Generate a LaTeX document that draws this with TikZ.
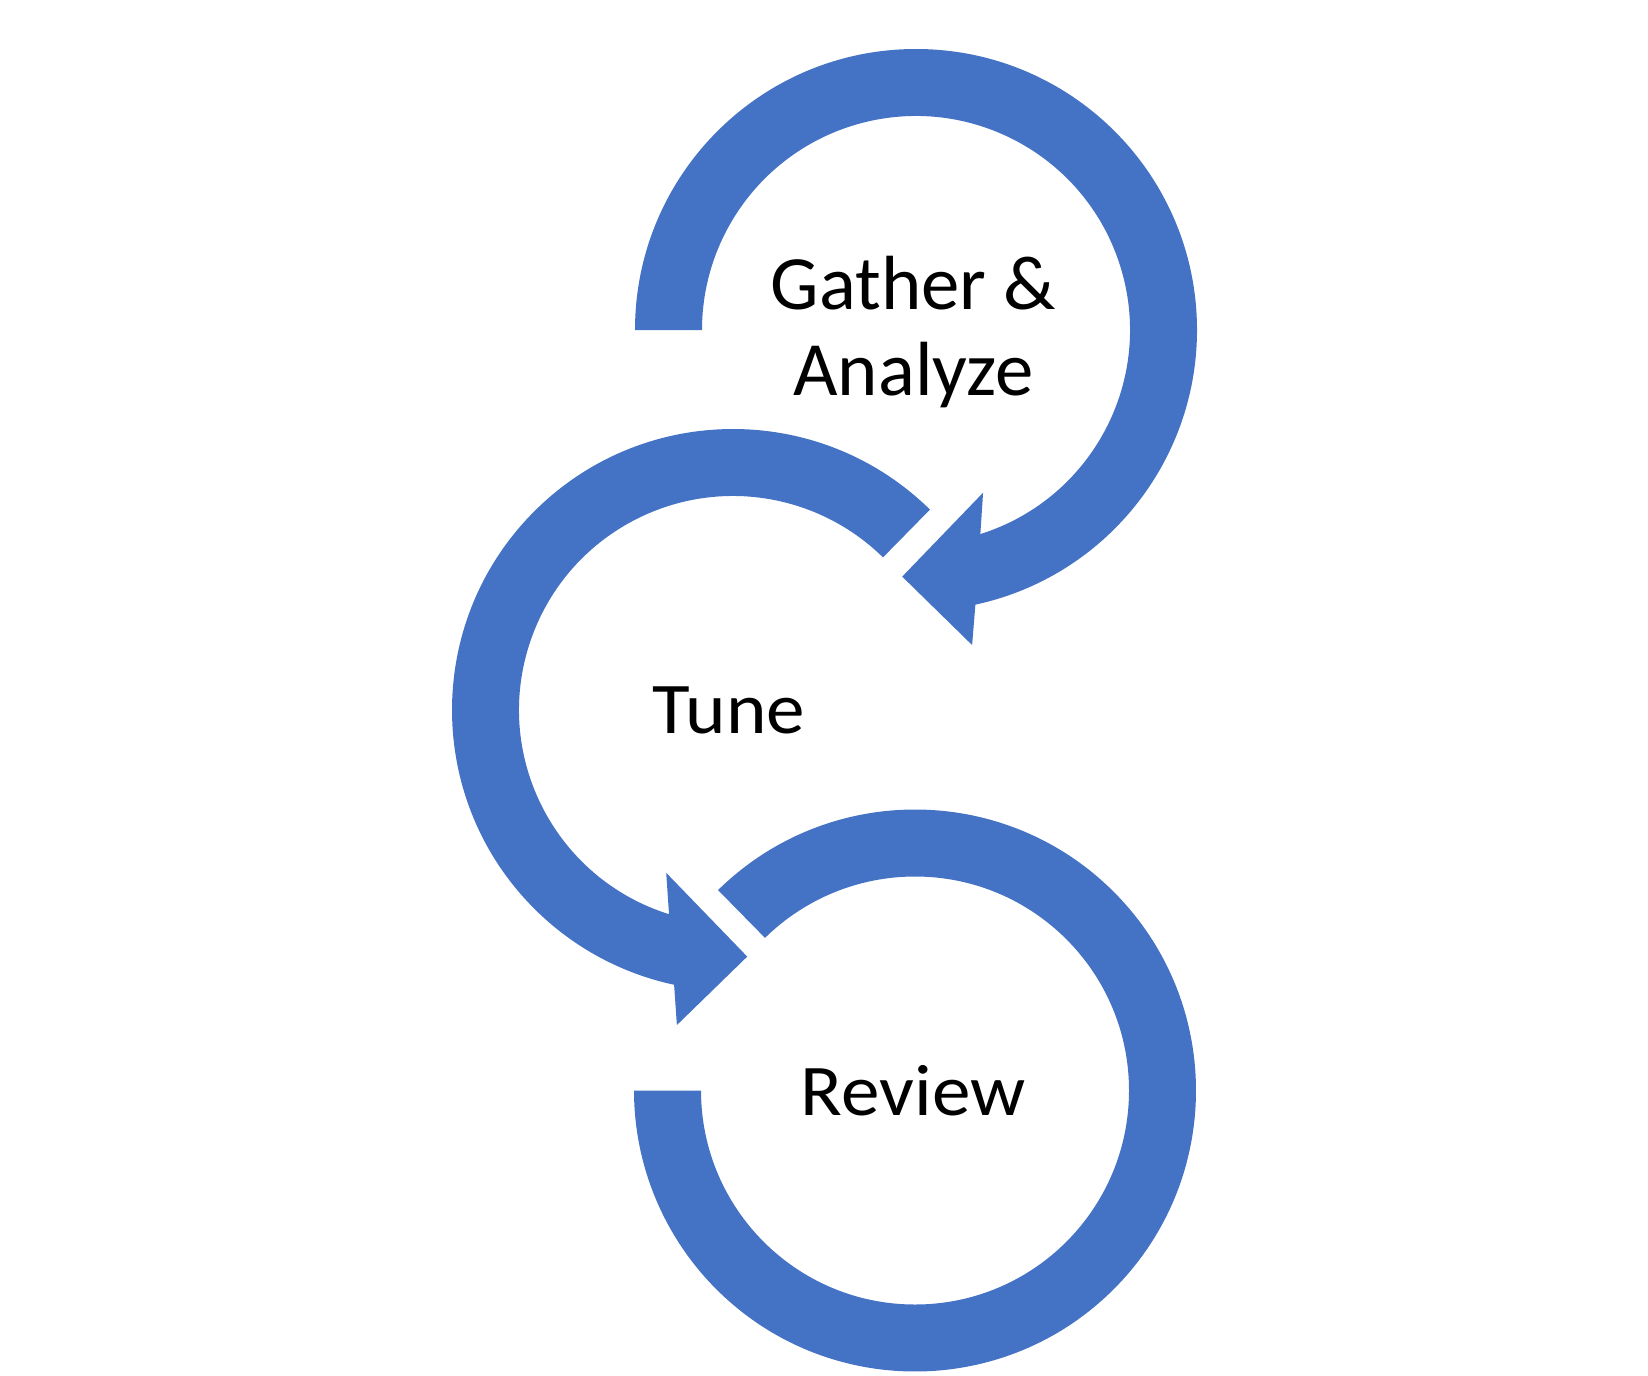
\documentclass[tikz,border=0pt]{standalone}
\usepackage{fontspec}
\setmainfont{Carlito}
\definecolor{ringblue}{HTML}{4472C4}
\begin{document}
\begin{tikzpicture}[x=0.25pt,y=0.25pt,
  ring/.style={fill=ringblue,draw=none},
  lbl/.style={inner sep=0pt,text=black,align=center}]
\useasboundingbox (0,0) rectangle (1648,1375);
\coordinate (ct) at (916,1045);
\coordinate (cm) at (733,665);
\coordinate (cb) at (915,284.5);
% top ring with arrowhead
\fill[ring] ([shift={(ct)}]180:281) arc[start angle=180,end angle=-77.8,radius=281]
  -- ([shift={(ct)}]-79.9:320) -- ([shift={(ct)}]-93.2:247) -- ([shift={(ct)}]-67.6:176)
  -- ([shift={(ct)}]-72.5:214) arc[start angle=-72.5,end angle=180,radius=214] -- cycle;
% middle ring with arrowhead
\fill[ring] ([shift={(cm)}]45.5:281) arc[start angle=45.5,end angle=257.9,radius=281]
  -- ([shift={(cm)}]259.9:320) -- ([shift={(cm)}]273.3:247) -- ([shift={(cm)}]247.7:176)
  -- ([shift={(cm)}]252.6:214) arc[start angle=252.6,end angle=45.5,radius=214] -- cycle;
% bottom ring
\fill[ring] ([shift={(cb)}]134.5:281) arc[start angle=134.5,end angle=-180,radius=281]
  -- ([shift={(cb)}]180:214) arc[start angle=-180,end angle=134.5,radius=214] -- cycle;
% labels
\node[lbl,anchor=base,font=\fontsize{19.2pt}{21.5pt}\selectfont] (gather) at (913.5,980) {Gather \&\\Analyze};
\node[lbl,anchor=base,font=\fontsize{18.2pt}{20pt}\selectfont] (tune) at (729,642) {\scalebox{1.06}[1]{Tune}};
\node[lbl,anchor=base,font=\fontsize{18.2pt}{20pt}\selectfont] (review) at (913,260) {\scalebox{1.06}[1]{Review}};
\end{tikzpicture}
\end{document}
